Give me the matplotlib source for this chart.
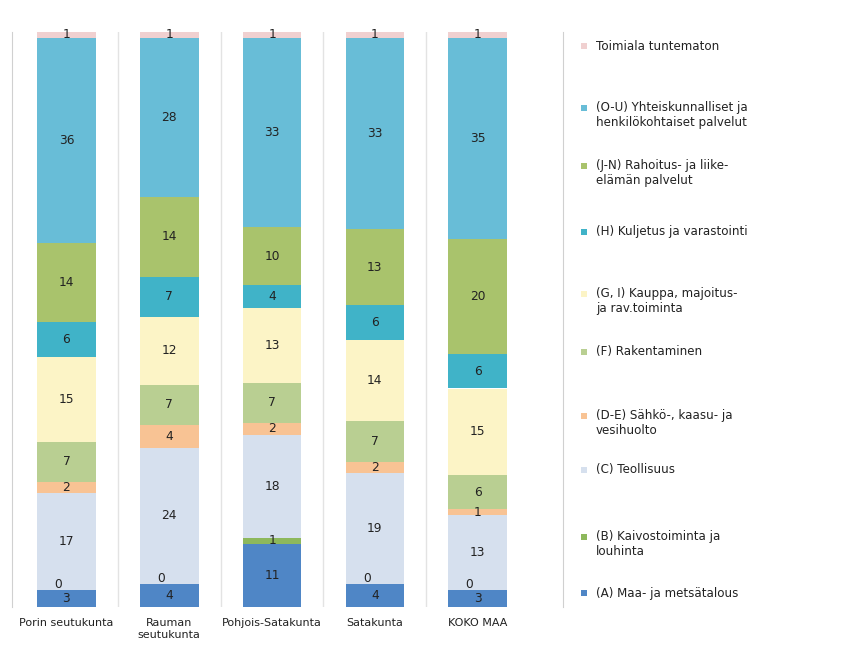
import numpy as np
import matplotlib.pyplot as plt
from matplotlib.patches import Rectangle

regions = ["Porin seutukunta", "Rauman\nseutukunta", "Pohjois-Satakunta", "Satakunta", "KOKO MAA"]

# bottom -> top
industries = [
    "(A) Maa- ja metsätalous",
    "(B) Kaivostoiminta ja\nlouhinta",
    "(C) Teollisuus",
    "(D-E) Sähkö-, kaasu- ja\nvesihuolto",
    "(F) Rakentaminen",
    "(G, I) Kauppa, majoitus-\nja rav.toiminta",
    "(H) Kuljetus ja varastointi",
    "(J-N) Rahoitus- ja liike-\nelämän palvelut",
    "(O-U) Yhteiskunnalliset ja\nhenkilökohtaiset palvelut",
    "Toimiala tuntematon",
]

share_a = [3, 4, 11, 4, 3]
share_b = [0, 0, 1, 0, 0]
share_c = [17, 24, 18, 19, 13]
share_de = [2, 4, 2, 2, 1]
share_f = [7, 7, 7, 7, 6]
share_gi = [15, 12, 13, 14, 15]
share_h = [6, 7, 4, 6, 6]
share_jn = [14, 14, 10, 13, 20]
share_ou = [36, 28, 33, 33, 35]
share_unknown = [1, 1, 1, 1, 1]

series = [share_a, share_b, share_c, share_de, share_f, share_gi,
          share_h, share_jn, share_ou, share_unknown]
colors = ["#4f86c6", "#8db85c", "#d6e0ee", "#f8c394", "#b9cf92",
          "#fcf4c6", "#40b3c8", "#a9c36c", "#68bdd7", "#f0d0d0"]

# legend slot centres in figure pixels (top -> bottom order of legend)
legend_y = [46, 115, 173, 232, 301, 352, 423, 470, 544, 593]

W, H = 846, 654
fig = plt.figure(figsize=(W / 100, H / 100), dpi=100)
ax = fig.add_axes([12 / W, 1 - 607 / H, (563 - 12) / W, (607 - 32) / H])

vals = np.array(series, dtype=float)
pct = vals / vals.sum(axis=0) * 100
x = np.arange(len(regions))
bottom = np.zeros(len(regions))
for i, (row, raw) in enumerate(zip(pct, vals)):
    ax.bar(x, row, bottom=bottom, width=0.57, color=colors[i], linewidth=0)
    for j in range(len(regions)):
        yc = bottom[j] + row[j] / 2
        dy = 1.0 if raw[j] == 0 else 0
        ax.text(x[j] - (0.08 if raw[j] == 0 else 0), yc + dy, f"{int(raw[j])}",
                ha="center", va="center", fontsize=8.8, color="#222222")
    bottom += row

ax.set_xlim(-0.53, 4.83)
ax.set_ylim(0, 100)
ax.set_yticks([])
ax.set_xticks(x)
ax.set_xticklabels(regions, fontsize=8, color="#222222")
ax.tick_params(axis="x", length=0, pad=8)
for xs in [0.5, 1.5, 2.5, 3.5]:
    ax.axvline(xs, color="#e3e3e3", lw=1, zorder=0)
for s in ["top", "bottom"]:
    ax.spines[s].set_visible(False)
for s in ["left", "right"]:
    ax.spines[s].set_color("#d0d0d0")

# legend drawn top -> bottom
for k, yk in enumerate(legend_y):
    idx = len(industries) - 1 - k
    lines = industries[idx].count("\n") + 1
    first_line_y = yk - (lines - 1) * 7
    fig.patches.append(Rectangle((581 / W, 1 - (first_line_y + 3) / H), 6 / W, 6 / H,
                                 transform=fig.transFigure, color=colors[idx], lw=0))
    fig.text(596 / W, 1 - yk / H, industries[idx], fontsize=8.6, color="#222222",
             va="center", ha="left", linespacing=1.2)

fig.savefig("out.png", dpi=100)
